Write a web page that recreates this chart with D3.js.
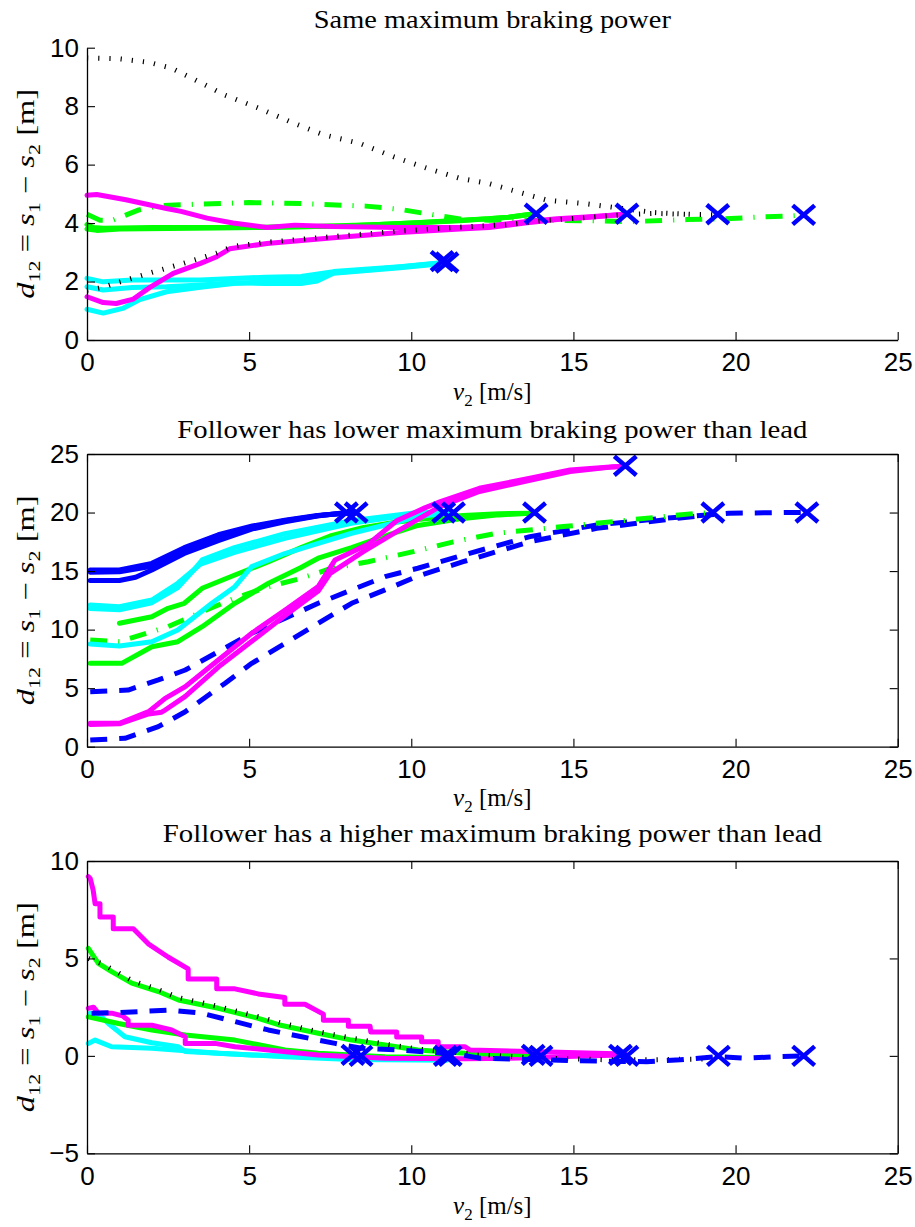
<!DOCTYPE html>
<html><head><meta charset="utf-8">
<script src="https://cdn.jsdelivr.net/npm/d3@7"></script>
<style>body{margin:0;background:#fff}svg{display:block}</style>
</head><body>
<svg id="chart" width="915" height="1227"></svg>
<script>
// ---------------- DATA ([v2, d12] pairs) ----------------
const xTicks = [0, 5, 10, 15, 20, 25];
const p1YTicks = [0, 2, 4, 6, 8, 10];
const p2YTicks = [0, 5, 10, 15, 20, 25];
const p3YTicks = [-5, 0, 5, 10];
const titles = [
  "Same maximum braking power",
  "Follower has lower maximum braking power than lead",
  "Follower has a higher maximum braking power than lead"
];

// Panel 1
const p1DotHigh = [[0,9.65],[1,9.62],[1.9,9.5],[2.6,9.3],[3.3,8.92],[4.25,8.38],[5.3,7.93],[6.3,7.45],[7.3,7.02],[8.4,6.73],[9.45,6.27],[10.5,5.87],[11.5,5.53],[12.4,5.35],[13.4,5.03],[14.2,4.78],[15.4,4.66],[16.5,4.5],[17.5,4.36],[18.6,4.3],[19.4,4.28]];
const p1DotLow = [[0,1.7],[0.5,1.8],[0.9,1.95],[1.9,2.28],[2.9,2.6],[4.0,2.97],[4.5,3.2],[5.5,3.34],[7.6,3.54],[9.6,3.72],[11.5,3.86],[13,3.95],[14,4.08],[15.5,4.2],[16.7,4.3],[17.5,4.33],[18.6,4.3]];
const p1MagA = [[0,4.95],[0.3,4.98],[1.2,4.8],[2.45,4.5],[2.9,4.4],[3.7,4.17],[4.5,4.0],[5.55,3.85],[6.4,3.93],[7.6,3.88],[9.6,3.85],[11.5,3.85],[12.4,3.9],[13.5,4.05],[14.5,4.15],[15.5,4.22],[16.6,4.3]];
const p1MagB = [[0,1.48],[0.5,1.28],[0.9,1.25],[1.43,1.4],[1.94,1.8],[2.66,2.28],[3.5,2.62],[4.0,2.85],[4.4,3.12],[5.55,3.3],[7.6,3.5],[9.65,3.68],[11.5,3.8],[12.4,3.85],[13.5,4.0],[14.5,4.12],[15.5,4.2],[16.6,4.3]];
const p1GreenA = [[0,3.95],[0.2,3.85],[0.5,3.82],[2,3.85],[5,3.85],[7,3.88],[9,3.95],[10,4.0],[11.5,4.1],[12.4,4.15],[13,4.2],[13.8,4.32]];
const p1GreenB = [[0,3.8],[0.3,3.75],[1,3.8],[4,3.83],[8,3.9],[10,4.0],[11.5,4.08],[13,4.2],[13.8,4.32]];
const p1GreenDD = [[0,4.3],[0.4,4.1],[0.8,4.1],[1.6,4.45],[2.25,4.6],[3.5,4.65],[5,4.7],[6.6,4.67],[8.6,4.58],[9.65,4.47],[10.7,4.28],[11.5,4.14],[12.4,4.1],[14,4.1],[15.5,4.08],[16.8,4.05],[18.5,4.12],[19.6,4.14],[20.6,4.2],[21.6,4.24],[22.2,4.28]];
const p1CyanA = [[0,2.11],[0.5,1.99],[1.4,2.05],[3.5,2.05],[5.5,2.15],[6.6,2.17],[7.6,2.34],[9.65,2.51],[11.0,2.65]];
const p1CyanB = [[0,1.82],[0.5,1.71],[1.4,1.8],[2.45,1.82],[3.5,1.88],[4.5,1.96],[5.5,1.93],[6.6,1.93],[7.1,2.02],[7.6,2.28],[9.65,2.47],[11.0,2.62]];
const p1CyanC = [[0,1.05],[0.5,0.92],[1.1,1.08],[1.6,1.37],[2.45,1.65],[3.5,1.8],[4.5,1.93],[5.5,2.0],[7,2.1],[7.6,2.3],[9.65,2.5],[11,2.64]];
const p1Marks = [[10.95,2.7],[11.1,2.65],[13.85,4.32],[16.65,4.32],[19.45,4.3],[22.1,4.28]];

// Panel 2
const p2BlueA = [[0.1,15.1],[1.0,15.1],[2.0,15.66],[3.0,17.0],[4.05,18.1],[5.1,18.85],[6.1,19.35],[7.1,19.75],[8.2,20.0]];
const p2BlueB = [[0.1,14.2],[1.0,14.2],[1.5,14.47],[2.0,15.1],[3.0,16.5],[4.05,17.6],[5.1,18.6],[6.1,19.2],[7.1,19.7],[8.0,20.0]];
const p2BlueC = [[0.1,14.9],[1,14.95],[2,15.4],[3,16.8],[3.5,17.4],[4.05,17.8],[5.1,18.75],[6.1,19.3],[7.3,19.8],[8.3,20.0]];
const p2CyanA = [[0.1,12.1],[1.0,11.96],[2.0,12.53],[2.8,13.96],[3.5,15.6],[4.55,16.6],[6.1,17.8],[8.15,19.08],[10.2,19.9],[11.2,20.0]];
const p2CyanB = [[0.1,11.8],[1,11.7],[2,12.3],[2.8,13.6],[3.3,15.1],[3.55,15.95],[4.55,17.0],[6.1,18.2],[8.15,19.3],[10.2,20.0],[11.0,20.0]];
const p2CyanC = [[0.1,8.77],[1.0,8.6],[2.0,8.97],[2.8,9.97],[3.85,12.25],[4.56,13.67],[5.08,15.38],[6.1,16.5],[7.13,17.37],[8.16,18.23],[9.2,18.94],[10.2,19.65],[11.3,20.0]];
const p2GreenA = [[1.0,10.54],[2.0,11.1],[2.5,11.82],[3.0,12.25],[3.55,13.53],[4.56,14.67],[5.6,15.8],[6.6,17.0],[7.5,18.0],[8.5,18.7],[9.55,19.2],[10.5,19.5],[11.6,19.75],[12.7,19.9],[13.8,19.95]];
const p2GreenB = [[0.1,7.12],[1.07,7.12],[2.0,8.54],[2.8,8.97],[3.55,10.25],[4.56,12.25],[5.6,13.96],[6.6,15.3],[7.13,16.1],[8.16,17.0],[9.2,18.0],[10.2,18.9],[11.6,19.5],[12.7,19.8],[13.8,19.95]];
const p2GreenDD = [[0.1,9.11],[1.0,8.97],[1.5,9.4],[2.5,10.25],[3.55,11.53],[4.56,12.68],[5.6,13.67],[6.6,14.38],[7.5,15.2],[8.67,15.8],[10.06,16.66],[11.3,17.5],[12.63,18.23],[14.69,18.8],[16.74,19.37],[18.8,19.94],[19.3,20.0]];
const p2BlueDA = [[0.1,4.7],[1.27,4.84],[2.2,5.7],[3.03,6.55],[4.05,8.12],[5.08,9.69],[6.11,10.97],[7.13,12.25],[8.16,13.39],[9.19,14.52],[10.2,15.24],[11.6,16.37],[13.66,17.94],[15.72,18.94],[17.77,19.5],[19.8,19.94],[22.19,20.02]];
const p2BlueDB = [[0.1,0.57],[1.17,0.72],[2.2,1.71],[3.03,2.99],[4.26,5.42],[5.08,7.12],[6.11,8.83],[7.13,10.54],[8.16,12.25],[9.19,13.39],[10.2,14.58],[11.6,15.8],[13.66,17.51],[15.72,18.65],[17.77,19.37],[19.3,19.85]];
const p2MagA = [[0.1,2.0],[1.0,2.0],[1.9,2.99],[2.41,4.13],[3.03,5.13],[4.05,7.4],[5.08,9.69],[6.11,11.68],[7.13,13.67],[7.65,15.95],[8.67,17.3],[9.55,19.3],[10.42,20.4],[10.9,20.93],[12.1,22.07],[13.66,22.93],[14.9,23.64],[16.23,23.92],[16.6,23.95]];
const p2MagB = [[0.1,1.9],[1.0,1.95],[1.9,2.8],[2.3,2.95],[2.41,3.13],[3.03,4.3],[4.05,6.8],[5.08,9.0],[6.11,11.2],[7.13,13.3],[7.5,14.8],[8.52,16.66],[9.55,18.37],[10.88,20.5],[12.1,21.8],[13.66,22.75],[14.9,23.5],[16.23,23.9],[16.6,23.95]];
const p2Marks = [[8.0,20.0],[8.3,20.0],[11.0,20.0],[11.3,20.0],[13.8,20.0],[16.6,24.0],[19.3,20.0],[22.2,20.0]];

// Panel 3
const p3MagA = [[0.04,9.2],[0.1,9.1],[0.19,8.51],[0.25,7.8],[0.4,7.8],[0.4,7.12],[0.81,7.12],[0.81,6.52],[1.43,6.52],[1.89,5.75],[2.51,5.06],[3.12,4.46],[3.12,3.95],[4.0,3.95],[4.0,3.44],[4.56,3.44],[5.28,3.18],[6.1,3.0],[6.1,2.65],[6.72,2.65],[7.29,2.14],[7.29,1.83],[8.06,1.83],[8.06,1.52],[8.73,1.52],[8.75,1.23],[9.55,1.23],[9.55,0.97],[10.32,0.97],[10.32,0.73],[10.83,0.73],[10.83,0.47],[11.66,0.47],[11.81,0.3],[13.66,0.22],[16.6,0.1]];
const p3MagB = [[0.04,2.44],[0.2,2.5],[0.35,2.2],[0.76,2.19],[1.1,2.05],[1.27,1.83],[1.27,1.57],[2.0,1.57],[2.61,1.33],[3.03,0.98],[3.03,0.64],[3.95,0.64],[4.56,0.47],[5.59,0.3],[7.13,0.05],[9.19,-0.12],[11.66,-0.15],[13.7,-0.1],[15.5,0.0],[16.6,0.05]];
const p3GreenA = [[0.04,5.52],[0.35,4.75],[0.76,4.32],[1.38,3.73],[2.2,3.3],[2.82,2.87],[4.05,2.44],[5.28,1.93],[5.9,1.6],[7.13,1.16],[8.16,0.81],[9.19,0.56],[10.2,0.3],[11.66,0.13],[13.7,0.05]];
const p3GreenB = [[0.04,2.0],[0.97,1.66],[2.0,1.33],[3.03,1.07],[4.56,0.81],[6.1,0.3],[7.13,0.13],[9.19,-0.04],[11.1,-0.08]];
const p3Dot = [[0.05,5.0],[0.5,4.7],[1.4,3.85],[2.2,3.4],[2.8,3.0],[4.0,2.55],[5.3,2.0],[6.0,1.68],[7.1,1.25],[8.2,0.9],[9.2,0.6],[10.2,0.35],[11.7,0.12],[13.7,-0.1],[16,-0.2],[17.5,-0.2],[19.3,-0.15]];
const p3BlueD = [[0.14,2.19],[0.97,2.22],[2.51,2.35],[3.54,2.19],[4.56,1.76],[5.59,1.33],[6.62,0.98],[7.65,0.64],[8.47,0.39],[9.7,0.3],[10.73,0.17],[11.55,0.05],[12.12,-0.12],[15.2,-0.25],[17.26,-0.3],[18.3,-0.2],[19.47,-0.04],[20.3,-0.12],[21.2,-0.05],[22.1,0.0]];
const p3CyanA = [[0.04,0.64],[0.25,0.81],[0.76,0.47],[2.0,0.39],[4.05,0.13],[6.1,-0.04],[8.16,-0.19],[11.1,-0.22]];
const p3CyanB = [[0.1,2.2],[0.45,2.0],[0.66,1.66],[1.17,0.98],[2.0,0.67],[2.82,0.47],[3.03,0.22],[5.08,0.05],[8,-0.12],[11.0,-0.15]];
const p3Marks = [[8.2,0.05],[8.45,0.0],[11.05,0.0],[11.2,0.0],[13.76,0.05],[14.0,0.0],[16.45,0.05],[16.65,0.0],[19.47,0.0],[22.1,0.0]];

// ---------------- STYLES / LAYOUT ----------------
const C = {mag:"#ff00ff", green:"#00ff00", cyan:"#00ffff", blue:"#0000ff", black:"#000000"};
const LS = {
  solid:   {w:5, dash:null},
  dash:    {w:5, dash:"17,12"},
  dashdot: {w:5, dash:"17,11,1.2,11"},
  dot:     {w:5, dash:"1.2,10"}
};

const panels = [
  {top:47.7, bottom:340, yDomain:[0,10], yTicks:p1YTicks, box:false, title:titles[0], titleY:28, titleW:357,
   series:[
     {d:p1CyanA,c:C.cyan,s:"solid"},{d:p1CyanB,c:C.cyan,s:"solid"},{d:p1CyanC,c:C.cyan,s:"solid"},
     {d:p1GreenDD,c:C.green,s:"dashdot"},
     {d:p1GreenA,c:C.green,s:"solid"},{d:p1GreenB,c:C.green,s:"solid"},
     {d:p1MagA,c:C.mag,s:"solid"},{d:p1MagB,c:C.mag,s:"solid"},
     {d:p1DotHigh,c:C.black,s:"dot"},{d:p1DotLow,c:C.black,s:"dot"}
   ], marks:p1Marks, xlabelY:400},
  {top:454, bottom:746.7, yDomain:[0,25], yTicks:p2YTicks, box:true, title:titles[1], titleY:438, titleW:630,
   series:[
     {d:p2BlueDA,c:C.blue,s:"dash"},{d:p2BlueDB,c:C.blue,s:"dash"},
     {d:p2GreenDD,c:C.green,s:"dashdot"},
     {d:p2GreenA,c:C.green,s:"solid"},{d:p2GreenB,c:C.green,s:"solid"},
     {d:p2CyanA,c:C.cyan,s:"solid"},{d:p2CyanB,c:C.cyan,s:"solid"},{d:p2CyanC,c:C.cyan,s:"solid"},
     {d:p2BlueA,c:C.blue,s:"solid"},{d:p2BlueB,c:C.blue,s:"solid"},{d:p2BlueC,c:C.blue,s:"solid"},
     {d:p2MagA,c:C.mag,s:"solid"},{d:p2MagB,c:C.mag,s:"solid"}
   ], marks:p2Marks, xlabelY:806},
  {top:861, bottom:1153.3, yDomain:[-5,10], yTicks:p3YTicks, box:true, title:titles[2], titleY:842, titleW:659,
   series:[
     {d:p3CyanA,c:C.cyan,s:"solid"},{d:p3CyanB,c:C.cyan,s:"solid"},
     {d:p3GreenB,c:C.green,s:"solid"},
     {d:p3MagB,c:C.mag,s:"solid"},
     {d:p3GreenA,c:C.green,s:"solid"},
     {d:p3Dot,c:C.black,s:"dot"},
     {d:p3BlueD,c:C.blue,s:"dash"},
     {d:p3MagA,c:C.mag,s:"solid"}
   ], marks:p3Marks, xlabelY:1214}
];

const svg = d3.select("#chart");
const X0 = 87, X1 = 897.7;
const x = d3.scaleLinear().domain([0,25]).range([X0, X1]);
const tickFont = "'Liberation Sans', Arial, Helvetica, sans-serif";
const serif = "'Liberation Serif', 'Times New Roman', serif";

function fmt(v){ return v < 0 ? "\u2212" + Math.abs(v) : String(v); }

panels.forEach(p => {
  const y = d3.scaleLinear().domain(p.yDomain).range([p.bottom, p.top]);
  const g = svg.append("g");

  const line = d3.line().x(d => x(d[0])).y(d => y(d[1])).curve(d3.curveLinear);
  p.series.forEach(s => {
    const st = LS[s.s];
    g.append("path").attr("d", line(s.d))
      .attr("fill","none").attr("stroke", s.c).attr("stroke-width", st.w)
      .attr("stroke-linejoin","round")
      .attr("stroke-linecap", st.dash ? "butt" : "round")
      .attr("stroke-dasharray", st.dash);
  });
  g.selectAll("path.mk").data(p.marks).join("path").attr("class","mk")
    .attr("transform", d => `translate(${x(d[0])},${y(d[1])})`)
    .attr("d","M-11,-9.5L11,9.5M-11,9.5L11,-9.5")
    .attr("stroke", C.blue).attr("stroke-width", 4.5).attr("fill","none");

  const axB = d3.axisBottom(x).tickValues(xTicks).tickSizeInner(-8).tickSizeOuter(0).tickPadding(13).tickFormat(fmt);
  const axL = d3.axisLeft(y).tickValues(p.yTicks).tickSizeInner(-8).tickSizeOuter(0).tickPadding(8).tickFormat(fmt);
  const gb = svg.append("g").attr("transform",`translate(0,${p.bottom})`).call(axB);
  const gl = svg.append("g").attr("transform",`translate(${X0},0)`).call(axL);
  const axes = [gb, gl];
  if (p.box) {
    const axT = d3.axisTop(x).tickValues(xTicks).tickSizeInner(-8).tickSizeOuter(0).tickFormat("");
    const axR = d3.axisRight(y).tickValues(p.yTicks).tickSizeInner(-8).tickSizeOuter(0).tickFormat("");
    axes.push(svg.append("g").attr("transform",`translate(0,${p.top})`).call(axT));
    axes.push(svg.append("g").attr("transform",`translate(${X1},0)`).call(axR));
  }
  axes.forEach(a => {
    a.select(".domain").attr("stroke","#000").attr("stroke-width",1.3);
    a.selectAll(".tick line").attr("stroke","#000").attr("stroke-width",1.1);
    a.selectAll(".tick text").attr("fill","#000").style("font-family",tickFont).style("font-size","26px");
  });

  svg.append("text").attr("x", (X0+X1)/2).attr("y", p.titleY)
    .attr("text-anchor","middle").style("font-family",serif).style("font-size","25px")
    .attr("textLength", p.titleW).attr("lengthAdjust","spacingAndGlyphs")
    .text(p.title);

  const xl = svg.append("text").attr("x",(X0+X1)/2).attr("y",p.xlabelY).attr("text-anchor","middle")
    .style("font-family",serif).style("font-size","25px");
  xl.append("tspan").attr("font-style","italic").text("v");
  xl.append("tspan").attr("dy",6).style("font-size","17px").text("2");
  xl.append("tspan").attr("dy",-6).text(" [m/s]");

  const cy = (p.top + p.bottom)/2;
  const yl = svg.append("text").attr("transform",`translate(34,${cy}) rotate(-90)`).attr("text-anchor","middle")
    .style("font-family",serif).style("font-size","25px")
    .attr("textLength",210).attr("lengthAdjust","spacingAndGlyphs");
  yl.append("tspan").attr("font-style","italic").text("d");
  yl.append("tspan").attr("dy",6).style("font-size","17px").text("12");
  yl.append("tspan").attr("dy",-6).text(" = ");
  yl.append("tspan").attr("font-style","italic").text("s");
  yl.append("tspan").attr("dy",6).style("font-size","17px").text("1");
  yl.append("tspan").attr("dy",-6).text(" \u2212 ");
  yl.append("tspan").attr("font-style","italic").text("s");
  yl.append("tspan").attr("dy",6).style("font-size","17px").text("2");
  yl.append("tspan").attr("dy",-6).text(" [m]");
});
</script>
</body></html>
